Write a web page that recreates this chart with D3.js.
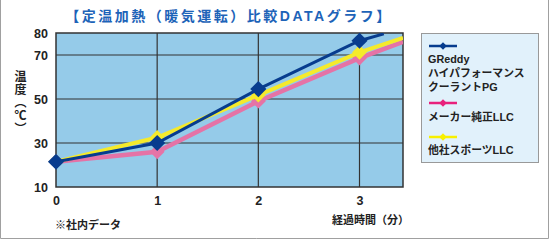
<!DOCTYPE html>
<html><head><meta charset="utf-8">
<script src="https://cdn.jsdelivr.net/npm/d3@7"></script>
<style>body{margin:0;background:#fff}svg{display:block}text{font-family:"Liberation Sans","Noto Sans CJK JP",sans-serif}</style>
</head><body>
<svg id="c" width="550" height="240"></svg>
<script>
const title = "【定温加熱（暖気運転）比較DATAグラフ】";
const xTicks = [0, 1, 2, 3];
const yTicks = [10, 30, 50, 70, 80];
const seriesNames = ["GReddy\nハイパフォーマンス\nクーラントPG", "メーカー純正LLC", "他社スポーツLLC"];
const times = [0, 1, 2, 3];
const greddy = [21.5, 30, 54.5, 76.5];
const genuine = [21.5, 26, 49, 68.6];
const sports = [21.5, 32.5, 51.8, 71.2];
// values where the lines leave the plot on the right
const greddyTail = [3.24, 79.6];
const genuineTail = [3.43, 76];
const sportsTail = [3.43, 77.8];

const svg = d3.select("#c");
const x = d3.scaleLinear().domain([0, 3.43]).range([56, 403]);
const y = d3.scaleLinear().domain([10, 80]).range([187, 33]);

// outer frame
svg.append("path").attr("d","M0.5,0 V238.5 H548.5 V0").attr("fill","none").attr("stroke","#a0a0a0");

svg.append("text").attr("x",229).attr("y",21).attr("text-anchor","middle")
  .attr("font-size",14).attr("font-weight","bold").attr("fill","#1d63b8")
  .attr("letter-spacing",2.5).attr("font-family","'Noto Sans CJK JP',sans-serif").text(title);

// plot bg
svg.append("rect").attr("x",x(0)).attr("y",y(80)).attr("width",x(3.43)-x(0)).attr("height",y(10)-y(80)).attr("fill","#95cbe9");

const grid = svg.append("g").attr("stroke","#333").attr("stroke-width",1.2);
[30,50,70].forEach(v=>grid.append("line").attr("x1",x(0)).attr("x2",x(3.43)).attr("y1",y(v)).attr("y2",y(v)));
[1,2,3].forEach(v=>grid.append("line").attr("y1",y(10)).attr("y2",y(80)).attr("x1",x(v)).attr("x2",x(v)));
svg.append("rect").attr("x",x(0)).attr("y",y(80)).attr("width",x(3.43)-x(0)).attr("height",y(10)-y(80))
  .attr("fill","none").attr("stroke","#333").attr("stroke-width",1.5);

const yAxis = svg.append("g").attr("transform",`translate(${x(0)},0)`).call(d3.axisLeft(y).tickValues(yTicks).tickSize(0).tickPadding(8));
yAxis.select(".domain").remove();
yAxis.selectAll("text").attr("font-size",12.5).attr("font-weight","bold").attr("fill","#222").attr("font-family","'Liberation Sans',Arial,sans-serif");
const xAxis = svg.append("g").attr("transform",`translate(0,${y(10)})`).call(d3.axisBottom(x).tickValues(xTicks).tickSize(0).tickPadding(9).tickFormat(d3.format("d")));
xAxis.select(".domain").remove();
xAxis.selectAll("text").attr("font-size",12.5).attr("font-weight","bold").attr("fill","#222").attr("font-family","'Liberation Sans',Arial,sans-serif");

// y title vertical
const yt = svg.append("text").attr("x",19).attr("y",70).attr("font-size",12).attr("fill","#222")
  .attr("font-family","'Noto Sans CJK JP',sans-serif").attr("font-weight","bold")
  .attr("text-anchor","start").attr("dominant-baseline","central").attr("letter-spacing",1).text("温度（℃）");
yt.attr("style","writing-mode:vertical-rl;text-orientation:upright");

svg.append("text").attr("x",409).attr("y",224).attr("text-anchor","end").attr("font-size",11).attr("font-weight","bold")
  .attr("fill","#222").attr("font-family","'Noto Sans CJK JP',sans-serif").text("経過時間（分）");
svg.append("text").attr("x",55).attr("y",229).attr("font-size",11).attr("font-weight","bold")
  .attr("fill","#222").attr("font-family","'Noto Sans CJK JP',sans-serif").text("※社内データ");

const line = d3.line().x(d=>x(d[0])).y(d=>y(d[1]));
svg.append("clipPath").attr("id","pc").append("rect").attr("x",x(0)).attr("y",y(80)).attr("width",x(3.43)-x(0)).attr("height",y(10)-y(80));
const series = [
  {vals: genuine, tail: genuineTail, color:"#e573a6", w:4.5, size:110},
  {vals: sports, tail: sportsTail, color:"#f5ea2b", w:4, size:110},
  {vals: greddy, tail: greddyTail, color:"#073c8e", w:3, size:130},
];
series.forEach(s=>{
  const pts = times.map((t,i)=>[t,s.vals[i]]).concat([s.tail]);
  svg.append("path").attr("d",line(pts)).attr("fill","none").attr("stroke",s.color).attr("stroke-width",s.w).attr("clip-path","url(#pc)");
  svg.selectAll(null).data(times.map((t,i)=>[t,s.vals[i]])).join("path")
    .attr("transform",d=>`translate(${x(d[0])},${y(d[1])}) rotate(45)`)
    .attr("d", d3.symbol().type(d3.symbolSquare).size(s.size)).attr("fill",s.color);
});

// legend
const lg = svg.append("g");
lg.append("rect").attr("x",421.5).attr("y",33.5).attr("width",117).attr("height",129).attr("fill","#e1f1fb").attr("stroke","#999");
const legendColors = ["#073c8e","#e8217c","#f8f000"];
const legendY = [46, 103, 137];
const legendTextY = [[63,77,91],[121],[154]];
seriesNames.forEach((n,i)=>{
  lg.append("line").attr("x1",429).attr("x2",457).attr("y1",legendY[i]).attr("y2",legendY[i]).attr("stroke",legendColors[i]).attr("stroke-width",2.5);
  lg.append("path").attr("transform",`translate(443,${legendY[i]}) rotate(45)`).attr("d",d3.symbol().type(d3.symbolSquare).size(28)).attr("fill",legendColors[i]);
  n.split("\n").forEach((t,j)=>{
    lg.append("text").attr("x",428).attr("y",legendTextY[i][j]).attr("font-size",10.8).attr("font-weight","bold").attr("fill","#222")
      .attr("font-family","'Noto Sans CJK JP',sans-serif").text(t);
  });
});
</script>
</body></html>
